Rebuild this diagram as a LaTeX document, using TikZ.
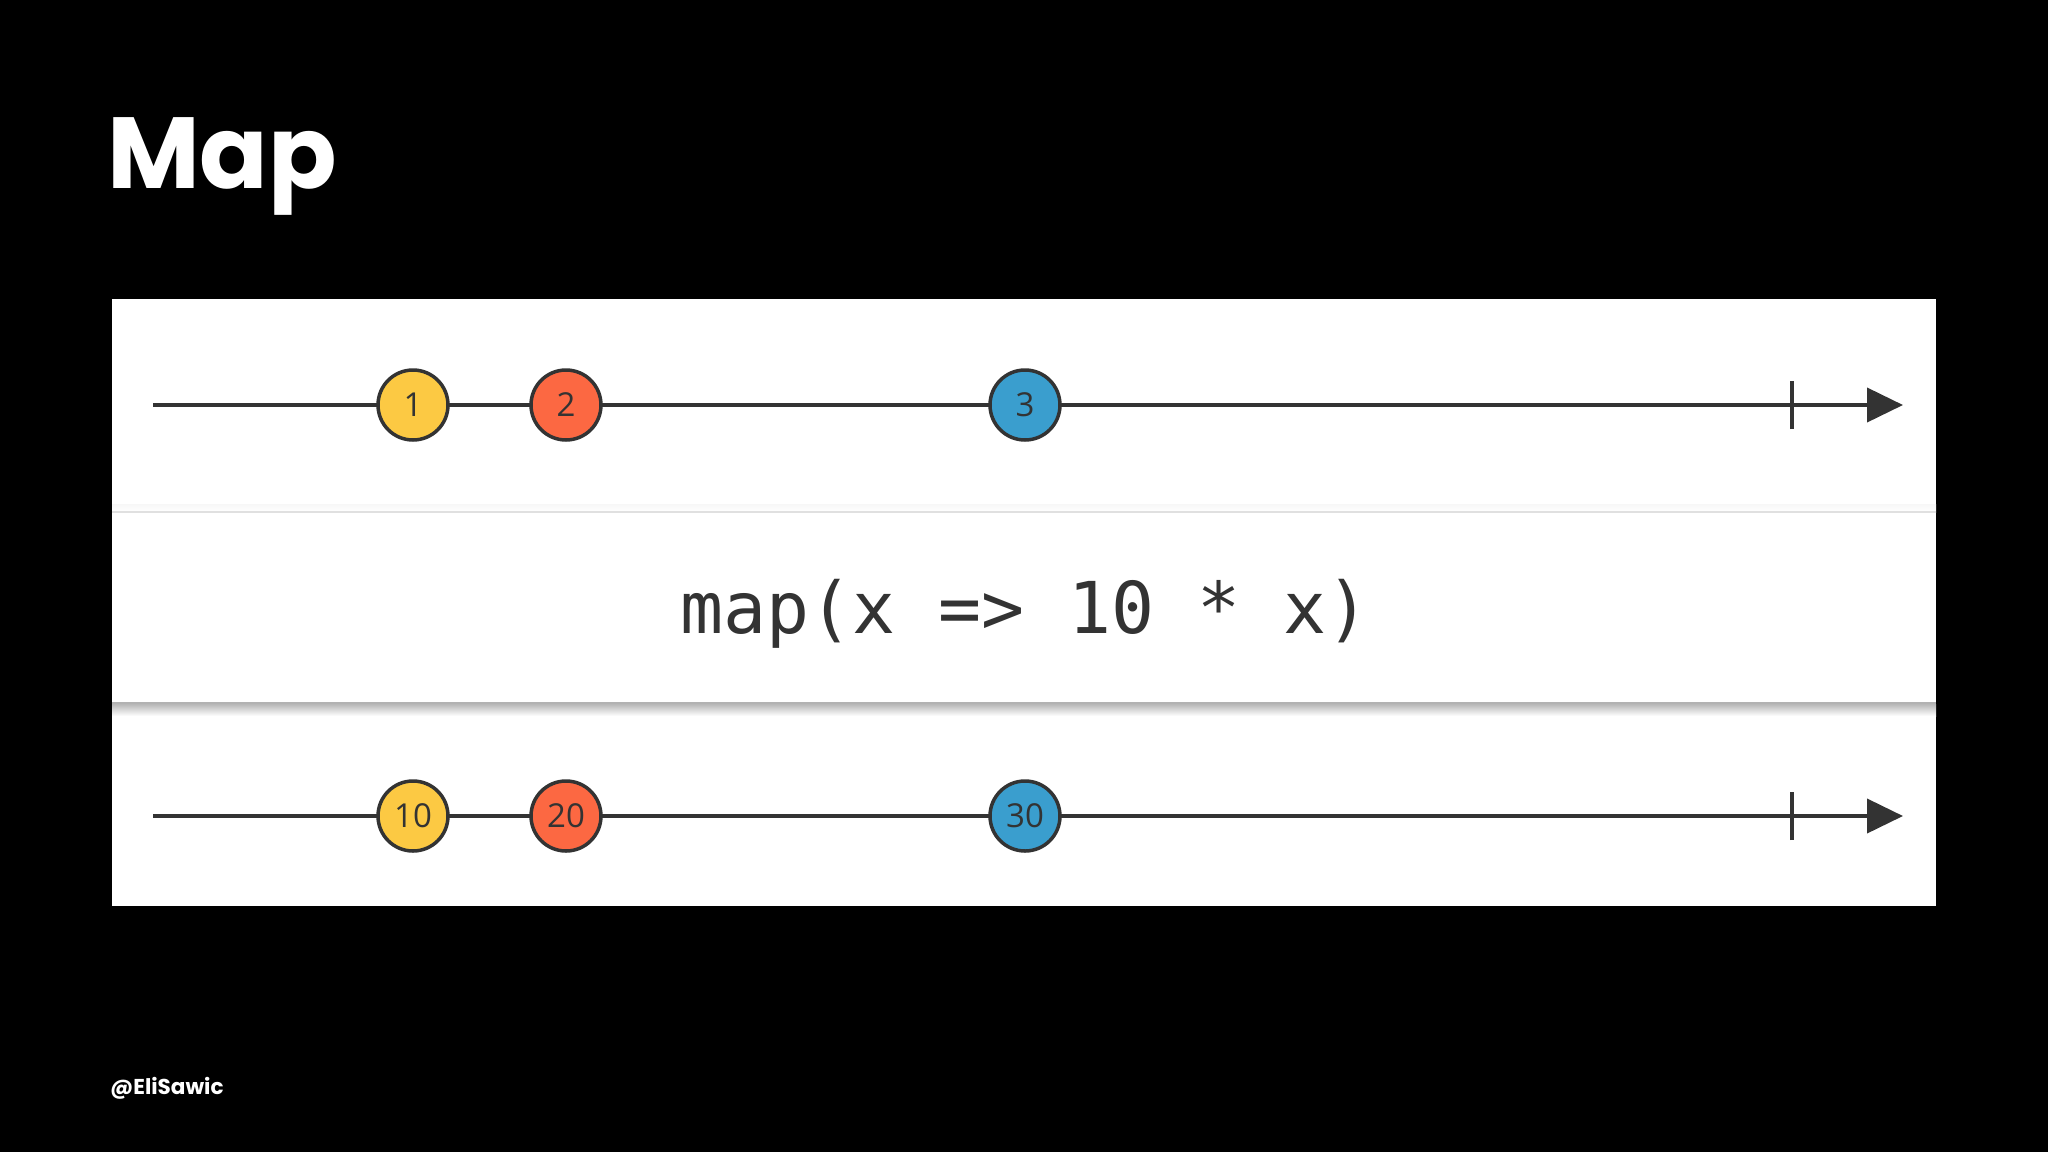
\documentclass[tikz,border=0pt]{standalone}
\usepackage{fontspec}
\setmainfont{Open Sans}
\newfontfamily\titlefont{Poppins}
\newfontfamily\codefont{DejaVu Sans Mono}
\usetikzlibrary{arrows.meta}

\begin{document}
\begin{tikzpicture}[
  x=1pt, y=-1pt,
  track/.style={draw=mbInk, line width=4pt},
  tick/.style={draw=mbInk, line width=4pt},
  marble/.style={circle, draw=mbInk, line width=3.5pt, minimum size=70pt, inner sep=0pt,
                 font=\fontsize{33}{33}\selectfont, text=mbInk},
  sep/.style={draw=black!12, line width=1.5pt}
]
\definecolor{mbInk}{RGB}{51,51,51}
\definecolor{mbYellow}{RGB}{252,201,67}
\definecolor{mbRed}{RGB}{252,104,66}
\definecolor{mbBlue}{RGB}{58,158,206}

% slide and panel
\fill[black] (0,0) rectangle (2048,1152);
\useasboundingbox (0,0) rectangle (2048,1152);
\fill[white] (112,299) rectangle (1936,906);
\node[anchor=base west, inner sep=0pt, text=white, font=\titlefont\bfseries\fontsize{101}{101}\selectfont] (title) at (107,188) {Map};
\node[anchor=base west, inner sep=0pt, text=white, font=\titlefont\bfseries\fontsize{21.5}{21.5}\selectfont] (handle) at (110,1094) {@EliSawic};

% operator box
\shade[top color=black!3, bottom color=white] (112,504) rectangle (1936,512);
\draw[sep] (112,512) -- (1936,512);
\shade[top color=black!28, bottom color=white] (112,704) rectangle (1936,716);
\draw[draw=black!30, line width=2pt] (112,703) -- (1936,703);
\node[anchor=base, inner sep=0pt, text=mbInk, font=\codefont\fontsize{71.5}{71.5}\selectfont] (op) at (1025,633) {map(x => 10 * x)};

% input and output streams
\foreach \row/\y in {in/405, out/816} {
  \coordinate (\row s) at (153,\y);
  \coordinate (\row e) at (1903,\y);
  \coordinate (\row t) at (1792,\y);
  \draw[track, -{Triangle[length=36pt, width=34pt]}] (\row s) -- (\row e);
  \draw[tick] ([yshift=-24pt]\row t) -- ([yshift=24pt]\row t);
}
\foreach \x/\v/\c/\n in {413/1/mbYellow/a, 566/2/mbRed/b, 1025/3/mbBlue/c} {
  \node[marble, fill=\c] (in\n) at (\x,405) {\v};
}
\foreach \x/\v/\c/\n in {413/10/mbYellow/a, 566/20/mbRed/b, 1025/30/mbBlue/c} {
  \node[marble, fill=\c] (out\n) at (\x,816) {\v};
}
\end{tikzpicture}
\end{document}
